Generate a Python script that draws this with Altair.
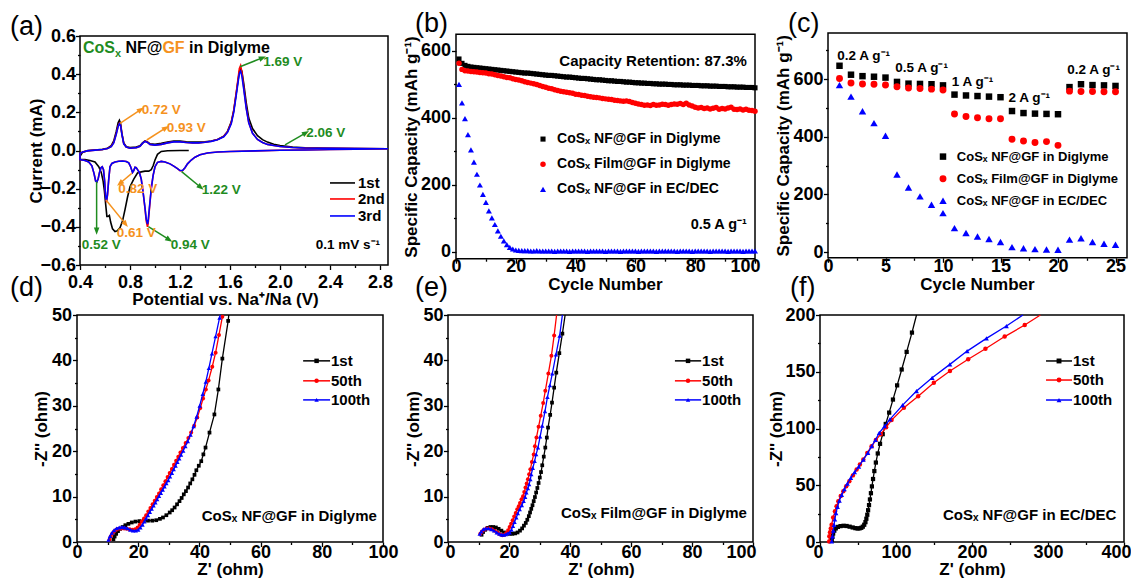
import math
import altair as alt
import pandas as pd

W, H = 1123, 570
FONT = "Liberation Sans"
BLACK, RED, BLUE = "#000000", "#ff0000", "#0000ff"
GREEN, ORANGE = "#1f8c1f", "#f5921e"
ARROW = "M0,-1L0.6,0.55L-0.6,0.55Z"

# ---------------- (a) cyclic voltammetry ----------------
cv_series = ["1st", "2nd", "3rd"]
cv1_cath_v = [1.27, 1.20, 1.10, 1.05, 1.02, 1.00, 0.985, 0.97, 0.95, 0.92,
              0.89, 0.86, 0.83, 0.80, 0.78, 0.76, 0.74, 0.72, 0.70, 0.68,
              0.66, 0.645, 0.635, 0.625, 0.615, 0.605, 0.595, 0.585, 0.57, 0.55,
              0.52, 0.48, 0.44, 0.40]
cv1_cath_i = [0.0, 0.0, -0.001, -0.005, -0.02, -0.05, -0.08, -0.10, -0.108, -0.108,
              -0.112, -0.118, -0.15, -0.19, -0.245, -0.31, -0.37, -0.405, -0.42, -0.425,
              -0.41, -0.375, -0.34, -0.345, -0.345, -0.28, -0.21, -0.16, -0.115, -0.085,
              -0.06, -0.052, -0.048, -0.047]
cv_anod_v = [0.40, 0.42, 0.46, 0.52, 0.58, 0.62, 0.65, 0.67, 0.69, 0.705,
             0.715, 0.725, 0.735, 0.75, 0.77, 0.80, 0.85, 0.88, 0.90, 0.92,
             0.94, 0.96, 1.00, 1.05, 1.10, 1.15, 1.20, 1.25, 1.30, 1.35,
             1.40, 1.45, 1.50, 1.55, 1.58, 1.61, 1.63, 1.65, 1.665, 1.675,
             1.685, 1.695, 1.71, 1.73, 1.75, 1.78, 1.82, 1.86, 1.90, 1.95,
             2.00, 2.10, 2.20, 2.40, 2.60, 2.864]
cv1_anod_i = [-0.03, -0.01, 0.0, 0.003, 0.006, 0.012, 0.025, 0.05, 0.10, 0.145,
              0.158, 0.14, 0.09, 0.04, 0.02, 0.015, 0.018, 0.025, 0.04, 0.05,
              0.045, 0.035, 0.032, 0.038, 0.045, 0.05, 0.05, 0.046, 0.044, 0.044,
              0.046, 0.05, 0.058, 0.075, 0.10, 0.15, 0.21, 0.30, 0.37, 0.415,
              0.43, 0.415, 0.35, 0.25, 0.17, 0.115, 0.078, 0.057, 0.044, 0.033,
              0.026, 0.018, 0.014, 0.011, 0.010, 0.009]
cv2_anod_i = [-0.015, -0.008, -0.002, 0.002, 0.005, 0.01, 0.021, 0.042, 0.088, 0.128,
              0.143, 0.132, 0.087, 0.036, 0.018, 0.012, 0.015, 0.022, 0.037, 0.049,
              0.043, 0.032, 0.028, 0.032, 0.04, 0.046, 0.046, 0.042, 0.04, 0.04,
              0.043, 0.048, 0.057, 0.074, 0.098, 0.145, 0.21, 0.305, 0.38, 0.43,
              0.445, 0.41, 0.33, 0.225, 0.147, 0.091, 0.058, 0.042, 0.032, 0.026,
              0.021, 0.016, 0.013, 0.011, 0.010, 0.009]
cv3_anod_i = [-0.015, -0.008, -0.002, 0.002, 0.005, 0.01, 0.02, 0.04, 0.085, 0.125,
              0.14, 0.13, 0.085, 0.035, 0.018, 0.012, 0.015, 0.022, 0.037, 0.048,
              0.042, 0.032, 0.028, 0.032, 0.04, 0.045, 0.045, 0.042, 0.04, 0.04,
              0.043, 0.048, 0.056, 0.072, 0.095, 0.14, 0.2, 0.29, 0.36, 0.405,
              0.415, 0.39, 0.32, 0.22, 0.145, 0.09, 0.058, 0.042, 0.032, 0.026,
              0.021, 0.016, 0.013, 0.011, 0.010, 0.009]
cv23_cath_v = [2.864, 2.60, 2.40, 2.20, 2.00, 1.80, 1.60, 1.50, 1.42, 1.36,
               1.32, 1.29, 1.26, 1.24, 1.22, 1.20, 1.18, 1.15, 1.12, 1.08,
               1.05, 1.02, 1.00, 0.985, 0.97, 0.955, 0.945, 0.94, 0.93, 0.92,
               0.905, 0.89, 0.875, 0.86, 0.85, 0.84, 0.83, 0.82, 0.805, 0.79,
               0.77, 0.74, 0.71, 0.68, 0.655, 0.64, 0.63, 0.62, 0.612, 0.605,
               0.597, 0.588, 0.578, 0.568, 0.556, 0.545, 0.535, 0.525, 0.512, 0.495,
               0.47, 0.44, 0.40]
cv2_cath_i = [0.009, 0.007, 0.005, 0.003, 0.001, -0.002, -0.005, -0.008, -0.013, -0.022,
              -0.035, -0.05, -0.07, -0.09, -0.106, -0.106, -0.095, -0.082, -0.07, -0.06,
              -0.057, -0.062, -0.085, -0.13, -0.2, -0.31, -0.385, -0.40, -0.37, -0.305,
              -0.22, -0.15, -0.115, -0.1, -0.09, -0.088, -0.105, -0.115, -0.085, -0.065,
              -0.058, -0.055, -0.056, -0.06, -0.068, -0.085, -0.15, -0.235, -0.27, -0.245,
              -0.16, -0.1, -0.085, -0.09, -0.115, -0.15, -0.165, -0.16, -0.12, -0.08,
              -0.06, -0.052, -0.048]
cv3_cath_i = [0.009, 0.007, 0.005, 0.003, 0.001, -0.002, -0.005, -0.008, -0.013, -0.022,
              -0.035, -0.05, -0.07, -0.09, -0.105, -0.105, -0.095, -0.082, -0.07, -0.06,
              -0.057, -0.062, -0.085, -0.13, -0.2, -0.3, -0.37, -0.385, -0.36, -0.3,
              -0.22, -0.15, -0.115, -0.1, -0.09, -0.088, -0.105, -0.115, -0.085, -0.065,
              -0.058, -0.055, -0.056, -0.06, -0.068, -0.085, -0.15, -0.23, -0.265, -0.24,
              -0.16, -0.1, -0.085, -0.09, -0.115, -0.15, -0.165, -0.16, -0.12, -0.08,
              -0.06, -0.052, -0.048]

# ---------------- (b) cycling at 0.5 A/g ----------------
cycles_b = list(range(1, 101))
cap_b_nf = [576, 563, 557, 554, 552, 551, 550, 549, 548, 547,
            546, 545, 544, 543, 542, 541, 540, 539, 538, 537,
            536, 535, 534, 534, 533, 532, 531, 530, 529, 528,
            527, 527, 526, 525, 524, 523, 522, 522, 521, 520,
            519, 518, 518, 517, 516, 515, 514, 514, 513, 512,
            511, 511, 510, 509, 509, 508, 507, 507, 506, 505,
            505, 504, 504, 503, 503, 502, 502, 501, 501, 501,
            500, 500, 499, 499, 499, 498, 498, 498, 497, 497,
            497, 496, 496, 496, 495, 495, 495, 494, 494, 494,
            493, 493, 493, 492, 492, 492, 491, 491, 491, 490]
cap_b_film = [563, 545, 541, 540, 539, 538, 537, 536, 535, 534,
              532, 531, 529, 527, 525, 523, 521, 520, 517, 515,
              513, 511, 508, 506, 504, 502, 500, 497, 494, 492,
              489, 487, 484, 482, 480, 478, 477, 475, 474, 471,
              470, 468, 467, 465, 463, 462, 461, 460, 458, 457,
              456, 455, 453, 452, 451, 450, 451, 449, 446, 444,
              442, 440, 438, 439, 437, 440, 438, 439, 441, 440,
              438, 440, 442, 441, 443, 440, 444, 439, 436, 432,
              430, 431, 428, 430, 427, 429, 431, 426, 428, 427,
              430, 432, 426, 425, 427, 424, 426, 423, 422, 420]
cap_b_ecdec = [500, 445, 398, 350, 305, 268, 232, 200, 172, 148,
               123, 102, 82, 63, 47, 33, 22, 14, 9, 6,
               5, 4, 4, 4, 3, 3, 4, 3, 3, 3,
               3, 3, 2, 3, 3, 3, 3, 2, 3, 3,
               3, 3, 3, 2, 3, 3, 3, 3, 3, 2,
               3, 3, 3, 3, 2, 3, 3, 3, 3, 3,
               2, 3, 3, 3, 3, 3, 2, 3, 3, 3,
               3, 3, 3, 2, 3, 3, 3, 3, 2, 3,
               3, 3, 3, 3, 2, 3, 3, 3, 3, 3,
               2, 3, 3, 3, 3, 2, 3, 3, 3, 3]
cell_names = ["CoSₓ NF@GF in Diglyme", "CoSₓ Film@GF in Diglyme", "CoSₓ NF@GF in EC/DEC"]

# ---------------- (c) rate capability ----------------
cycles_c = list(range(1, 26))
cap_c_nf = [646, 615, 610, 608, 605, 590, 584, 583, 582, 578, 546, 543, 541, 539, 537,
            489, 482, 480, 479, 478, 572, 582, 579, 578, 576]
cap_c_film = [602, 586, 583, 582, 579, 573, 569, 567, 565, 562, 479, 470, 466, 462, 462,
              391, 385, 380, 383, 370, 558, 557, 557, 556, 556]
cap_c_ecdec = [579, 539, 488, 447, 403, 269, 224, 193, 164, 135, 83, 66, 54, 45, 35,
               17, 13, 10, 9, 8, 43, 48, 35, 29, 25]
rate_labels = ["0.2 A g⁻¹", "0.5 A g⁻¹", "1 A g⁻¹", "2 A g⁻¹", "0.2 A g⁻¹"]

# ---------------- (d)(e)(f) impedance ----------------
eis_series = ["1st", "50th", "100th"]
d1_x = [11.9, 12.3, 12.8, 13.4, 14.1, 14.9, 15.8, 16.8, 17.9, 19.1, 20.4, 21.8, 23.2, 24.6, 25.9,
        27.1, 28.1, 29.2, 30.3, 31.1, 31.9, 32.7, 33.5, 34.2, 34.9, 35.6, 36.3, 37.0, 37.7, 38.4,
        39.0, 39.8, 40.6, 41.3, 42.0, 43.3, 44.9, 46.2, 47.5, 49.4, 49.6]
d1_y = [0.6, 1.2, 1.8, 2.4, 2.9, 3.3, 3.7, 4.0, 4.3, 4.5, 4.6, 4.7, 4.7, 4.7, 4.8,
        5.1, 5.4, 5.9, 6.5, 7.0, 7.6, 8.3, 9.0, 9.7, 10.5, 11.2, 12.0, 12.9, 13.8, 14.8,
        15.8, 16.8, 17.8, 19.3, 20.8, 24.1, 28.1, 33.6, 40.4, 48.7, 50.0]
d50_x = [10.6, 11.0, 11.5, 12.1, 12.8, 13.6, 14.5, 15.4, 16.3, 17.2, 18.1, 19.0, 19.8, 20.5, 21.2,
         21.9, 22.6, 23.3, 24.0, 24.7, 25.4, 26.1, 26.8, 27.5, 28.2, 28.9, 29.6, 30.3, 31.0, 31.7,
         32.4, 33.1, 33.8, 34.6, 35.5, 36.4, 37.3, 38.3, 39.3, 40.3, 41.2, 42.1, 43.0, 44.2, 45.3,
         46.4, 47.5, 47.6]
d50_y = [0.5, 1.2, 1.8, 2.3, 2.7, 2.9, 3.0, 3.0, 2.9, 2.8, 2.7, 2.8, 3.2, 3.8, 4.5,
         5.2, 5.9, 6.7, 7.5, 8.3, 9.1, 9.9, 10.7, 11.6, 12.5, 13.4, 14.3, 15.2, 16.1, 17.0,
         17.9, 18.8, 19.7, 20.7, 21.8, 22.9, 24.1, 25.6, 27.4, 29.5, 31.6, 33.6, 35.6, 38.6, 41.7,
         45.6, 49.6, 50.0]
d100_x = [10.3, 10.8, 11.4, 12.1, 12.9, 13.8, 14.7, 15.6, 16.5, 17.4, 18.3, 19.2, 20.0, 20.7, 21.4,
          22.0, 22.6, 23.2, 23.8, 24.4, 25.0, 25.6, 26.2, 26.8, 27.4, 28.0, 28.6, 29.2, 29.8, 30.4,
          31.0, 31.6, 32.2, 32.8, 33.4, 34.0, 34.7, 35.4, 36.2, 37.1, 38.1, 39.1, 40.1, 41.1, 42.1,
          43.1, 44.1, 45.3, 46.6, 46.8]
d100_y = [0.5, 1.3, 2.0, 2.6, 3.0, 3.2, 3.3, 3.2, 3.0, 2.7, 2.5, 2.5, 2.7, 3.2, 3.8,
          4.5, 5.2, 5.9, 6.6, 7.3, 8.0, 8.7, 9.4, 10.1, 10.8, 11.5, 12.2, 12.9, 13.6, 14.4,
          15.2, 16.0, 16.8, 17.6, 18.4, 19.2, 20.1, 21.1, 22.2, 23.6, 25.5, 27.6, 30.0, 32.6, 35.3,
          38.3, 41.5, 45.3, 49.4, 50.0]
e1_x = [11.0, 11.5, 12.2, 13.0, 13.9, 14.8, 15.7, 16.6, 17.5, 18.4, 19.3, 20.2, 21.1, 22.0, 22.8,
        23.6, 24.3, 24.9, 25.5, 26.0, 26.5, 26.9, 27.3, 27.7, 28.1, 28.5, 28.9, 29.3, 29.7, 30.1,
        30.5, 30.9, 31.4, 31.9, 32.4, 32.8, 33.5, 34.1, 34.8, 35.5, 36.5, 37.5, 38.4]
e1_y = [1.6, 2.2, 2.7, 3.1, 3.3, 3.3, 3.2, 2.9, 2.5, 2.1, 1.9, 1.8, 1.8, 1.9, 2.1,
        2.5, 3.0, 3.6, 4.2, 4.9, 5.7, 6.5, 7.3, 8.1, 9.0, 9.9, 10.9, 11.9, 13.0, 14.2,
        15.4, 16.9, 18.8, 20.8, 23.0, 25.2, 28.0, 30.7, 34.0, 37.3, 41.6, 45.9, 50.0]
e50_x = [10.6, 11.1, 11.8, 12.6, 13.5, 14.4, 15.3, 16.2, 17.0, 17.8, 18.5, 19.1, 19.7, 20.2, 20.7,
         21.2, 21.7, 22.2, 22.7, 23.2, 23.6, 24.1, 24.6, 25.0, 25.4, 25.8, 26.2, 26.6, 27.0, 27.5,
         28.1, 28.5, 29.0, 29.7, 30.4, 31.2, 31.9, 32.9, 33.9, 34.8, 35.6]
e50_y = [1.8, 2.3, 2.7, 3.0, 3.0, 2.8, 2.5, 2.1, 1.7, 1.5, 1.6, 2.0, 2.6, 3.3, 4.0,
         4.8, 5.6, 6.4, 7.2, 7.9, 8.6, 9.4, 10.1, 11.0, 12.0, 12.9, 13.8, 14.9, 16.0, 17.6,
         19.3, 21.1, 23.0, 25.4, 27.8, 30.6, 33.3, 37.1, 41.0, 45.5, 50.0]
e100_x = [10.4, 10.9, 11.6, 12.4, 13.3, 14.2, 15.1, 16.0, 16.8, 17.6, 18.3, 19.0, 19.6, 20.2, 20.8,
          21.3, 21.8, 22.4, 22.9, 23.5, 24.2, 24.8, 25.3, 25.7, 26.2, 26.6, 27.0, 27.3, 27.8, 28.4,
          28.9, 29.5, 30.2, 30.9, 31.8, 32.6, 33.4, 34.2, 35.4, 36.6, 37.5]
e100_y = [1.8, 2.3, 2.8, 3.0, 3.0, 2.8, 2.5, 2.1, 1.8, 1.6, 1.6, 1.7, 1.9, 2.1, 2.7,
          3.5, 4.4, 5.4, 6.3, 7.2, 8.1, 9.0, 9.9, 10.9, 11.8, 12.7, 13.8, 14.9, 16.3, 17.8,
          19.3, 20.8, 23.2, 25.6, 28.8, 31.9, 34.5, 37.1, 41.3, 45.4, 50.0]
f1_x = [15.5, 16.3, 17.3, 18.8, 20.8, 23.5, 27.0, 31.0, 35.0, 39.0, 43.0, 46.5, 49.5, 52.0, 54.3,
        56.3, 58.2, 59.8, 61.0, 62.2, 63.3, 64.5, 65.7, 67.0, 68.3, 69.8, 71.5, 73.5, 76.0, 79.0,
        82.5, 86.5, 91.0, 96.0, 101.5, 107.5, 114.0, 121.0, 127.0]
f1_y = [1.5, 4.5, 7.5, 10.0, 12.0, 13.3, 14.0, 14.3, 14.1, 13.5, 12.8, 12.2, 11.9, 12.0, 12.5,
        13.5, 15.2, 17.5, 20.5, 24.0, 28.0, 32.5, 37.5, 43.0, 49.0, 55.5, 62.5, 70.0, 78.0, 86.5,
        95.0, 104.0, 114.0, 125.5, 138.0, 152.0, 167.5, 184.5, 200.0]
f50_x = [12.0, 12.3, 13.2, 14.2, 15.3, 17.3, 19.7, 21.8, 24.1, 27.3, 30.7, 34.5, 38.6, 43.3, 48.2,
         52.5, 57.0, 62.2, 67.9, 73.5, 80.0, 87.0, 94.2, 110.4, 129.2, 149.8, 171.0, 195.0, 217.7, 243.0,
         269.4, 290.0]
f50_y = [0.5, 5.0, 8.5, 12.0, 15.3, 21.5, 27.0, 31.5, 35.9, 40.5, 44.7, 49.2, 53.5, 58.7, 63.8,
         68.3, 72.6, 78.5, 84.4, 89.8, 95.0, 101.0, 107.4, 118.2, 128.5, 140.3, 150.6, 161.0, 170.3, 181.0,
         191.2, 200.0]
f100_x = [15.4, 16.4, 17.5, 18.5, 19.5, 21.0, 23.0, 25.5, 28.5, 32.0, 36.0, 40.5, 45.5, 51.0, 57.0,
          63.0, 68.0, 73.0, 78.0, 85.0, 92.0, 108.7, 127.0, 147.6, 170.9, 193.6, 219.0, 245.3, 267.0]
f100_y = [0.6, 5.0, 10.0, 15.0, 20.0, 25.5, 31.0, 36.5, 41.5, 46.5, 51.5, 56.5, 61.5, 66.5, 72.6,
          78.5, 84.4, 90.0, 96.2, 102.0, 108.0, 120.6, 133.0, 144.7, 156.5, 168.2, 179.4, 190.3, 200.0]

# ---------------- tick values ----------------
ticks_a_x = [0.4, 0.6, 0.8, 1.0, 1.2, 1.4, 1.6, 1.8, 2.0, 2.2, 2.4, 2.6, 2.8]
ticks_a_y = [-0.6, -0.5, -0.4, -0.3, -0.2, -0.1, 0.0, 0.1, 0.2, 0.3, 0.4, 0.5, 0.6]
ticks_b_x = [0, 10, 20, 30, 40, 50, 60, 70, 80, 90, 100]
ticks_b_y = [0, 100, 200, 300, 400, 500, 600]
ticks_c_x = [0, 2.5, 5, 7.5, 10, 12.5, 15, 17.5, 20, 22.5, 25]
ticks_c_y = [0, 100, 200, 300, 400, 500, 600, 700]
ticks_de_x = [0, 10, 20, 30, 40, 50, 60, 70, 80, 90, 100]
ticks_de_y = [0, 5, 10, 15, 20, 25, 30, 35, 40, 45, 50]
ticks_f_x = [0, 50, 100, 150, 200, 250, 300, 350, 400]
ticks_f_y = [0, 25, 50, 75, 100, 125, 150, 175, 200]


# ---------------- helpers ----------------
def panel(xd, xr, yd, yr):
    return {"xd": xd, "xr": xr, "yd": yd, "yr": yr}


def set_axes(P, xvals, xmaj, xtitle, xtx, xty, xpad, yvals, ymaj, ytitle, ytx, ypad,
             fmt=None, flush=0):
    extra = {"format": fmt} if fmt else {}
    common = dict(grid=False, domain=False, labelOverlap=False,
                  tickColor=BLACK, tickWidth=1.3, **extra)
    xflush = dict(labelFlush=True, labelFlushOffset=flush) if flush else dict(labelFlush=False)
    P["xaxis"] = alt.Axis(
        orient="bottom", offset=P["yr"][0] - H, values=xvals,
        labelExpr=f"({xmaj}) ? datum.label : ''",
        tickSize={"condition": {"test": xmaj, "value": 4.5}, "value": 2.5},
        labelBaseline="alphabetic", labelPadding=xpad,
        title=xtitle, titleX=xtx, titleY=xty,
        titleAngle=0, titleAlign="center", titleBaseline="alphabetic", **xflush, **common)
    P["yaxis"] = alt.Axis(
        orient="left", offset=-P["xr"][0], values=yvals,
        labelExpr=f"({ymaj}) ? datum.label : ''",
        tickSize={"condition": {"test": ymaj, "value": 4.5}, "value": 2.5},
        labelPadding=ypad, labelFlush=False, title=ytitle, titleX=ytx,
        titleY=(P["yr"][0] + P["yr"][1]) / 2, titleAngle=270,
        titleAlign="center", titleBaseline="middle", **common)


def xy(P, x="x", y="y"):
    return {
        "x": alt.X(f"{x}:Q", scale=alt.Scale(domain=P["xd"], range=P["xr"], nice=False, zero=False),
                   axis=P["xaxis"]),
        "y": alt.Y(f"{y}:Q", scale=alt.Scale(domain=P["yd"], range=P["yr"], nice=False, zero=False),
                   axis=P["yaxis"]),
    }


def frame(P):
    df = pd.DataFrame({"x": [P["xd"][0]], "x2": [P["xd"][1]], "y": [P["yd"][0]], "y2": [P["yd"][1]]})
    return alt.Chart(df).mark_rect(fill="transparent", stroke=BLACK, strokeWidth=1.5).encode(
        **xy(P), x2="x2", y2="y2")


def series_df(xs, ys):
    return pd.DataFrame({"x": xs, "y": ys, "i": list(range(len(xs)))})


def line(P, df, color, width=1.5):
    return alt.Chart(df).mark_line(color=color, strokeWidth=width).encode(**xy(P), order="i:Q")


def pts(P, df, color, shape, size, ymax=None):
    ch = alt.Chart(df)
    if ymax is not None:
        ch = ch.transform_filter(f"datum.y < {ymax}")
    return ch.mark_point(shape=shape, filled=True, size=size, color=color, opacity=1,
                         strokeWidth=0).encode(**xy(P))


def text(P, xs, ys, labels, color, size, align="left", baseline="alphabetic", weight="bold"):
    df = pd.DataFrame({"x": xs, "y": ys, "t": labels})
    return alt.Chart(df).mark_text(align=align, baseline=baseline, font=FONT, fontSize=size,
                                   fontWeight=weight, color=color).encode(**xy(P), text="t:N")


def arrows(P, segs, color):
    sx = (P["xr"][1] - P["xr"][0]) / (P["xd"][1] - P["xd"][0])
    sy = (P["yr"][0] - P["yr"][1]) / (P["yd"][1] - P["yd"][0])
    df = pd.DataFrame(segs, columns=["x", "y", "x2", "y2"])
    df["ang"] = [math.degrees(math.atan2((b - a) * sx, (d - c) * sy)) % 360
                 for a, c, b, d in zip(df.x, df.y, df.x2, df.y2)]
    rule = alt.Chart(df).mark_rule(color=color, strokeWidth=1.5).encode(**xy(P), x2="x2", y2="y2")
    head = alt.Chart(df).mark_point(shape=ARROW, filled=True, size=85, color=color, opacity=1,
                                    strokeWidth=0).encode(**xy(P, "x2", "y2"),
                                                          angle=alt.Angle("ang:Q", scale=None))
    return [rule, head]


def eis_legend(P, x1, x2, xm, xt, ys, msize):
    out = []
    specs = [(BLACK, "square"), (RED, "circle"), (BLUE, "triangle-up")]
    for (c, s), yy, lab in zip(specs, ys, eis_series):
        df = pd.DataFrame({"x": [x1], "x2": [x2], "y": [yy]})
        out.append(alt.Chart(df).mark_rule(color=c, strokeWidth=1.5).encode(**xy(P), x2="x2"))
        out.append(pts(P, pd.DataFrame({"x": [xm], "y": [yy]}), c, s, msize))
        out.append(text(P, [xt], [yy], [lab], BLACK, 15, baseline="middle"))
    return out


def letter(t, px, py):
    return alt.Chart(pd.DataFrame({"t": [t]})).mark_text(
        align="left", baseline="alphabetic", font=FONT, fontSize=27, color=BLACK).encode(
        x=alt.value(px), y=alt.value(py), text="t:N")


# ---------------- panel geometry (pixels inside the view) ----------------
PA = panel([0.4, 2.864], [72, 380], [-0.6, 0.6], [257, 28])
PB = panel([0, 100], [448, 747], [-20, 650], [250.7, 26.2])
PC = panel([0, 26], [820, 1119], [-20, 760], [249.8, 24.9])
PD = panel([0, 100], [69, 375], [0, 50], [534, 307])
PE = panel([0, 100], [440, 745], [0, 50], [534, 307])
PF = panel([0, 400], [812, 1116], [0, 200], [534, 307])

cap_title = "Specific Capacity (mAh g⁻¹)"
set_axes(PA, ticks_a_x, "round(datum.value*10) % 4 == 0", "Potential vs. Na⁺/Na (V)", 217, 39, 17.5,
         ticks_a_y, "round(datum.value*10) % 2 == 0", "Current (mA)", -44, 0, fmt=".1f")
set_axes(PB, ticks_b_x, "datum.value % 20 == 0", "Cycle Number", 597, 30.5, 7.8,
         ticks_b_y, "datum.value % 200 == 0", cap_title, -45, 1, flush=5)
set_axes(PC, ticks_c_x, "datum.value % 5 == 0", "Cycle Number", 969, 31.5, 9.5,
         ticks_c_y, "datum.value % 200 == 0", cap_title, -45, 0.5)
set_axes(PD, ticks_de_x, "datum.value % 20 == 0", "Z' (ohm)", 222, 32.5, 10.5,
         ticks_de_y, "datum.value % 10 == 0", "-Z'' (ohm)", -36, 1)
set_axes(PE, ticks_de_x, "datum.value % 20 == 0", "Z' (ohm)", 593, 32.5, 10.5,
         ticks_de_y, "datum.value % 10 == 0", "-Z'' (ohm)", -35, 0.5, flush=3)
set_axes(PF, ticks_f_x, "datum.value % 100 == 0", "Z' (ohm)", 964, 32.5, 10.5,
         ticks_f_y, "datum.value % 50 == 0", "-Z'' (ohm)", -44, 0.5, flush=7)

# ---------------- (a) ----------------
cv1 = series_df(cv1_cath_v + cv_anod_v, cv1_cath_i + cv1_anod_i)
cv2 = series_df(cv23_cath_v + cv_anod_v, cv2_cath_i + cv2_anod_i)
cv3 = series_df(cv23_cath_v + cv_anod_v, cv3_cath_i + cv3_anod_i)
layers_a = [frame(PA), line(PA, cv1, BLACK, 1.6), line(PA, cv2, RED, 1.6), line(PA, cv3, BLUE, 1.6)]
layers_a += arrows(PA, [(1.68, 0.439, 1.853, 0.484), (2.04, 0.029, 2.2, 0.09),
                        (1.213, -0.111, 1.36, -0.19), (0.533, -0.163, 0.533, -0.417),
                        (0.947, -0.399, 1.107, -0.465)], GREEN)
layers_a += arrows(PA, [(0.72, 0.142, 0.88, 0.212), (0.934, 0.055, 1.08, 0.116),
                        (0.814, -0.12, 0.725, -0.169), (0.608, -0.259, 0.76, -0.382)], ORANGE)
layers_a += [
    text(PA, [1.866, 2.21, 1.374, 0.414, 1.125], [0.444, 0.072, -0.228, -0.518, -0.518],
         ["1.69 V", "2.06 V", "1.22 V", "0.52 V", "0.94 V"], GREEN, 13.5),
    text(PA, [0.893, 1.093, 0.706, 0.693], [0.191, 0.099, -0.221, -0.455],
         ["0.72 V", "0.93 V", "0.82 V", "0.61 V"], ORANGE, 13.5),
    text(PA, [2.8], [-0.518], ["0.1 mV s⁻¹"], BLACK, 13.5, align="right"),
    text(PA, [0.424], [0.509], ["CoS"], GREEN, 16),
    text(PA, [0.68], [0.49], ["x"], GREEN, 11),
    text(PA, [0.764], [0.509], ["NF@"], BLACK, 16),
    text(PA, [1.059], [0.509], ["GF"], ORANGE, 16),
    text(PA, [1.272], [0.509], ["in Diglyme"], BLACK, 16),
]
for c, yy, lab in zip([BLACK, RED, BLUE], [-0.17, -0.254, -0.343], cv_series):
    layers_a.append(alt.Chart(pd.DataFrame({"x": [2.4], "x2": [2.6], "y": [yy]})).mark_rule(
        color=c, strokeWidth=1.6).encode(**xy(PA), x2="x2"))
    layers_a.append(text(PA, [2.624], [yy], [lab], BLACK, 15, baseline="middle"))
panel_a = alt.layer(*layers_a)

# ---------------- (b) ----------------
layers_b = [frame(PB),
            pts(PB, series_df(cycles_b, cap_b_nf), BLACK, "square", 26),
            pts(PB, series_df(cycles_b, cap_b_film), RED, "circle", 30),
            pts(PB, series_df(cycles_b, cap_b_ecdec), BLUE, "triangle-up", 36)]
for c, s, sz, yy, lab in zip([BLACK, RED, BLUE], ["square", "circle", "triangle-up"], [26, 30, 36],
                             [337, 262, 187], cell_names):
    layers_b.append(pts(PB, pd.DataFrame({"x": [29.1], "y": [yy]}), c, s, sz))
    layers_b.append(text(PB, [33.8], [yy], [lab], BLACK, 14, baseline="middle"))
layers_b.append(text(PB, [97.3], [570], ["Capacity Retention: 87.3%"], BLACK, 15,
                     align="right", baseline="middle"))
layers_b.append(text(PB, [97.3], [82], ["0.5 A g⁻¹"], BLACK, 14.5, align="right", baseline="middle"))
panel_b = alt.layer(*layers_b)

# ---------------- (c) ----------------
layers_c = [frame(PC),
            pts(PC, series_df(cycles_c, cap_c_nf), BLACK, "square", 42),
            pts(PC, series_df(cycles_c, cap_c_film), RED, "circle", 48),
            pts(PC, series_df(cycles_c, cap_c_ecdec), BLUE, "triangle-up", 55)]
for c, s, sz, yy, lab in zip([BLACK, RED, BLUE], ["square", "circle", "triangle-up"], [42, 48, 55],
                             [331, 254, 178], cell_names):
    layers_c.append(pts(PC, pd.DataFrame({"x": [10.0], "y": [yy]}), c, s, sz))
    layers_c.append(text(PC, [11.2], [yy], [lab], BLACK, 13, baseline="middle"))
layers_c.append(text(PC, [0.81, 5.84, 10.77, 15.7, 20.8], [681, 637, 591, 535, 631],
                     rate_labels, BLACK, 13.5, baseline="middle"))
panel_c = alt.layer(*layers_c)


# ---------------- (d)(e)(f) ----------------
def eis_panel(P, data, msz, leg, note, note_xy):
    lay = [frame(P)]
    for (xs, ys), c, s, sz in zip(data, [BLACK, RED, BLUE], ["square", "circle", "triangle-up"], msz):
        df = series_df(xs, ys)
        lay.append(line(P, df, c, 1.3))
        lay.append(pts(P, df, c, s, sz, ymax=P["yd"][1]))
    lay += eis_legend(P, *leg, msize=msz[1] + 4)
    lay.append(text(P, [note_xy[0]], [note_xy[1]], [note], BLACK, 15, align="right", baseline="middle"))
    return alt.layer(*lay)


panel_d = eis_panel(PD, [(d1_x, d1_y), (d50_x, d50_y), (d100_x, d100_y)], [14, 16, 20],
                    (73.9, 82.7, 78.3, 83.0, [39.9, 35.5, 31.3]), cell_names[0], (98, 5.7))
panel_e = eis_panel(PE, [(e1_x, e1_y), (e50_x, e50_y), (e100_x, e100_y)], [14, 16, 20],
                    (74.4, 83.0, 78.7, 83.3, [39.9, 35.5, 31.3]), cell_names[1], (98, 6.4))
panel_f = eis_panel(PF, [(f1_x, f1_y), (f50_x, f50_y), (f100_x, f100_y)], [18, 20, 24],
                    (297.4, 331.6, 314.5, 332.9, [159.5, 142.7, 125.1]), cell_names[2], (390, 24))

letters = [letter("(a)", 2, 27), letter("(b)", 407, 24), letter("(c)", 780, 24),
           letter("(d)", 2, 288), letter("(e)", 407, 288), letter("(f)", 782, 288)]

chart = alt.layer(panel_a, panel_b, panel_c, panel_d, panel_e, panel_f, *letters).resolve_scale(
    x="independent", y="independent").resolve_axis(x="independent", y="independent").properties(
    width=W, height=H, padding=0, autosize=alt.AutoSizeParams(type="none"), background="white"
).configure_view(stroke="transparent").configure_axis(
    labelFont=FONT, labelFontSize=18, labelFontWeight="bold", labelColor=BLACK,
    titleFont=FONT, titleFontSize=17, titleFontWeight="bold", titleColor=BLACK)

chart.save("out.html", embed_options={"renderer": "svg", "actions": False})
